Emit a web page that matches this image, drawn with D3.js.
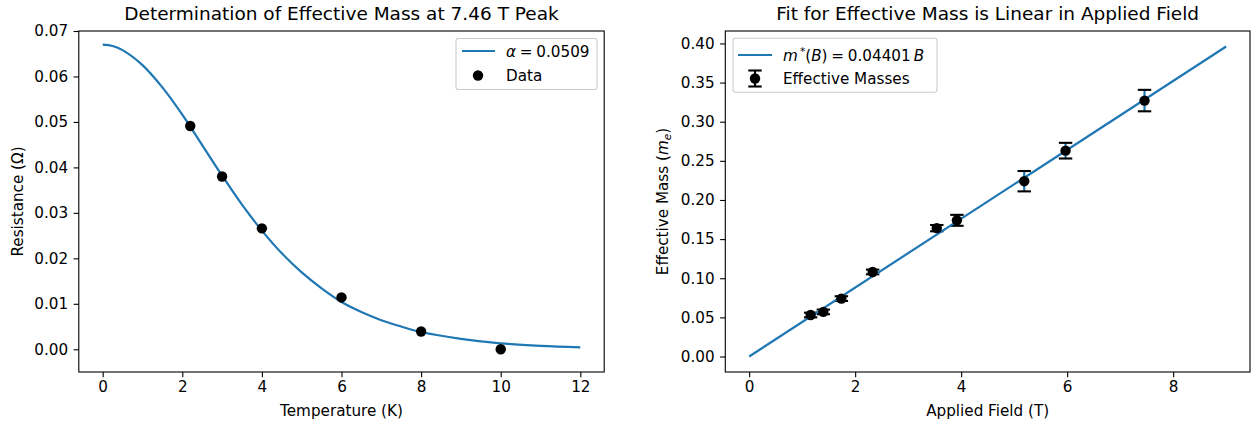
<!DOCTYPE html>
<html>
<head>
<meta charset="utf-8">
<script src="https://cdn.jsdelivr.net/npm/d3@7"></script>
<style>
  body { margin: 0; background: #fff; }
  svg text { font-family: "DejaVu Sans", sans-serif; fill: #000; }
</style>
</head>
<body>
<div id="chart"></div>
<script>
// left panel: resistance vs temperature at the 7.46 T peak
var tempK = [2.2, 3, 4, 6, 8, 10];
var resistance = [0.0491, 0.0380, 0.0266, 0.0114, 0.0039, 0.0000];
// fitted curve
var fitT = [0, 0.25, 0.5, 1, 1.5, 2, 2.5, 3, 3.5, 4, 4.5, 5, 5.5, 6, 6.5, 7, 7.5, 8, 9, 10, 11, 12];
var fitR = [0.0670, 0.0667, 0.0658, 0.0625, 0.0576, 0.0516, 0.0449, 0.0382, 0.0318, 0.0261, 0.0211, 0.0169,
            0.0134, 0.0104, 0.0082, 0.0064, 0.0050, 0.0038, 0.0023, 0.0013, 0.00075, 0.00043];
var leftXTicks = [0, 2, 4, 6, 8, 10, 12];
var leftYTicks = [0.00, 0.01, 0.02, 0.03, 0.04, 0.05, 0.06, 0.07];

// right panel: effective mass vs applied field
var field = [1.16, 1.40, 1.74, 2.33, 3.54, 3.92, 5.19, 5.97, 7.46];
var mass = [0.053, 0.057, 0.074, 0.108, 0.164, 0.174, 0.224, 0.263, 0.327];
var massErr = [0.003, 0.003, 0.003, 0.003, 0.004, 0.007, 0.013, 0.010, 0.0137];
var fitB = [0, 9];
var fitM = [0, 0.3961];
var rightXTicks = [0, 2, 4, 6, 8];
var rightYTicks = [0.00, 0.05, 0.10, 0.15, 0.20, 0.25, 0.30, 0.35, 0.40];

var W = 1253, H = 424;
var blue = "#1f77b4";
var FS = 15.2, TS = 18.5;
var svg = d3.select("#chart").append("svg").attr("width", W).attr("height", H);

function drawAxes(box, x, y, xTicks, yTicks, fmtY) {
    var g = svg.append("g");
    var xa = g.append("g").attr("transform", "translate(0," + box.bottom + ")")
        .call(d3.axisBottom(x).tickValues(xTicks).tickSize(5.2).tickPadding(4.5).tickFormat(d3.format("d")));
    var ya = g.append("g").attr("transform", "translate(" + box.left + ",0)")
        .call(d3.axisLeft(y).tickValues(yTicks).tickSize(5.2).tickPadding(5.5).tickFormat(fmtY));
    [xa, ya].forEach(function (a) {
        a.select(".domain").remove();
        a.selectAll("line").attr("stroke", "#000").attr("stroke-width", 1.1);
        a.selectAll("text").attr("font-size", FS).attr("font-family", "DejaVu Sans").attr("fill", "#000");
    });
    g.append("rect")
        .attr("x", box.left).attr("y", box.top)
        .attr("width", box.right - box.left).attr("height", box.bottom - box.top)
        .attr("fill", "none").attr("stroke", "#000").attr("stroke-width", 1.1);
    return g;
}

function legendFrame(x0, y0, w, h) {
    svg.append("rect")
        .attr("x", x0).attr("y", y0).attr("width", w).attr("height", h)
        .attr("rx", 2.5).attr("fill", "#fff").attr("fill-opacity", 0.8)
        .attr("stroke", "#cccccc").attr("stroke-width", 1.1);
}

// ---------- left panel ----------
var L = { left: 78.8, right: 604.2, top: 31, bottom: 372 };
var xL = d3.scaleLinear().domain([-0.6, 12.6]).range([L.left, L.right]);
var yL = d3.scaleLinear().domain([-0.005, 0.07]).range([L.bottom, L.top]);

svg.append("clipPath").attr("id", "clipL").append("rect")
    .attr("x", L.left).attr("y", L.top).attr("width", L.right - L.left).attr("height", L.bottom - L.top);

var fitLine = d3.line()
    .x(function (d, i) { return xL(fitT[i]); })
    .y(function (d, i) { return yL(fitR[i]); })
    .curve(d3.curveCatmullRom);
svg.append("path").datum(fitT)
    .attr("d", fitLine).attr("fill", "none").attr("stroke", blue).attr("stroke-width", 2.2)
    .attr("clip-path", "url(#clipL)");

svg.selectAll(".dotL").data(tempK).enter().append("circle")
    .attr("cx", function (d) { return xL(d); })
    .attr("cy", function (d, i) { return yL(resistance[i]); })
    .attr("r", 5.2).attr("fill", "#000");

drawAxes(L, xL, yL, leftXTicks, leftYTicks, d3.format(".2f"));

svg.append("text").attr("x", (L.left + L.right) / 2).attr("y", 20)
    .attr("text-anchor", "middle").attr("font-size", TS)
    .text("Determination of Effective Mass at 7.46 T Peak");
svg.append("text").attr("x", (L.left + L.right) / 2).attr("y", 416)
    .attr("text-anchor", "middle").attr("font-size", FS).text("Temperature (K)");
svg.append("text").attr("transform", "translate(23," + (L.top + L.bottom) / 2 + ") rotate(-90)")
    .attr("text-anchor", "middle").attr("font-size", FS).text("Resistance (Ω)");

// left legend
var legL = { x0: 456, y0: 38.5, w: 141, h: 51 };
legendFrame(legL.x0, legL.y0, legL.w, legL.h);
svg.append("line").attr("x1", legL.x0 + 6).attr("x2", legL.x0 + 39)
    .attr("y1", 51).attr("y2", 51).attr("stroke", blue).attr("stroke-width", 2.2);
var tA = svg.append("text").attr("x", legL.x0 + 50).attr("y", 56.5).attr("font-size", FS);
tA.append("tspan").attr("font-style", "italic").text("α");
tA.append("tspan").text("\u2005=\u20050.0509");
svg.append("circle").attr("cx", legL.x0 + 22).attr("cy", 75.5).attr("r", 5.2).attr("fill", "#000");
svg.append("text").attr("x", legL.x0 + 50).attr("y", 81).attr("font-size", FS).text("Data");

// ---------- right panel ----------
var R = { left: 725.3, right: 1250, top: 31, bottom: 372 };
var xR = d3.scaleLinear().domain([-0.45, 9.45]).range([R.left, R.right]);
var yR = d3.scaleLinear().domain([-0.0198, 0.4159]).range([R.bottom, R.top]);

// error bars: blue stems, black caps
var eb = svg.selectAll(".eb").data(field).enter().append("g");
eb.append("line")
    .attr("x1", function (d) { return xR(d); }).attr("x2", function (d) { return xR(d); })
    .attr("y1", function (d, i) { return yR(mass[i] - massErr[i]); })
    .attr("y2", function (d, i) { return yR(mass[i] + massErr[i]); })
    .attr("stroke", blue).attr("stroke-width", 2.2);
[-1, 1].forEach(function (s) {
    eb.append("line")
        .attr("x1", function (d) { return xR(d) - 6.7; }).attr("x2", function (d) { return xR(d) + 6.7; })
        .attr("y1", function (d, i) { return yR(mass[i] + s * massErr[i]); })
        .attr("y2", function (d, i) { return yR(mass[i] + s * massErr[i]); })
        .attr("stroke", "#000").attr("stroke-width", 2.1);
});

var massLine = d3.line()
    .x(function (d, i) { return xR(fitB[i]); })
    .y(function (d, i) { return yR(fitM[i]); });
svg.append("path").datum(fitB)
    .attr("d", massLine).attr("fill", "none").attr("stroke", blue).attr("stroke-width", 2.2);

svg.selectAll(".dotR").data(field).enter().append("circle")
    .attr("cx", function (d) { return xR(d); })
    .attr("cy", function (d, i) { return yR(mass[i]); })
    .attr("r", 5.2).attr("fill", "#000");

drawAxes(R, xR, yR, rightXTicks, rightYTicks, d3.format(".2f"));

svg.append("text").attr("x", (R.left + R.right) / 2).attr("y", 20)
    .attr("text-anchor", "middle").attr("font-size", TS)
    .text("Fit for Effective Mass is Linear in Applied Field");
svg.append("text").attr("x", (R.left + R.right) / 2).attr("y", 416)
    .attr("text-anchor", "middle").attr("font-size", FS).text("Applied Field (T)");
var yLab = svg.append("text").attr("transform", "translate(668," + (R.top + R.bottom) / 2 + ") rotate(-90)")
    .attr("text-anchor", "middle").attr("font-size", FS);
yLab.append("tspan").text("Effective Mass (");
yLab.append("tspan").attr("font-style", "italic").text("m");
yLab.append("tspan").attr("font-style", "italic").attr("font-size", 10.6).attr("dy", 3).text("e");
yLab.append("tspan").attr("dy", -3).text(")");

// right legend
var legR = { x0: 733, y0: 38.3, w: 204, h: 54 };
legendFrame(legR.x0, legR.y0, legR.w, legR.h);
svg.append("line").attr("x1", legR.x0 + 5).attr("x2", legR.x0 + 39)
    .attr("y1", 55).attr("y2", 55).attr("stroke", blue).attr("stroke-width", 2.2);
var tM = svg.append("text").attr("x", legR.x0 + 50).attr("y", 60.5).attr("font-size", FS);
tM.append("tspan").attr("font-style", "italic").text("m");
tM.append("tspan").attr("font-size", 10.6).attr("dy", -6).text("\u2009*");
tM.append("tspan").attr("dy", 6).text("(");
tM.append("tspan").attr("font-style", "italic").text("B");
tM.append("tspan").text(")\u2005=\u20050.04401\u2009");
tM.append("tspan").attr("font-style", "italic").text("B");
var hx = legR.x0 + 22, hy = 78.5;
svg.append("line").attr("x1", hx).attr("x2", hx).attr("y1", hy - 8).attr("y2", hy + 8)
    .attr("stroke", "#000").attr("stroke-width", 2.1);
[-8, 8].forEach(function (o) {
    svg.append("line").attr("x1", hx - 6.7).attr("x2", hx + 6.7).attr("y1", hy + o).attr("y2", hy + o)
        .attr("stroke", "#000").attr("stroke-width", 2.1);
});
svg.append("circle").attr("cx", hx).attr("cy", hy).attr("r", 5.2).attr("fill", "#000");
svg.append("text").attr("x", legR.x0 + 50).attr("y", 84).attr("font-size", FS).text("Effective Masses");
</script>
</body>
</html>
